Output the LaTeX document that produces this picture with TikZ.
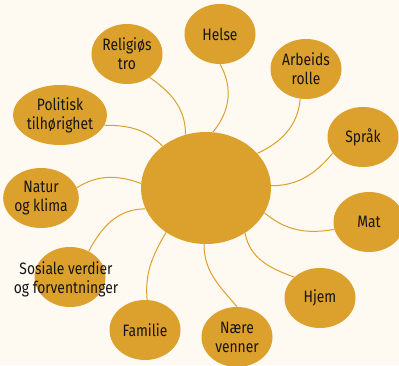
\documentclass[tikz,border=0pt]{standalone}
\usepackage{fontspec}
\setmainfont{Fira Sans}[FakeStretch=0.84]
\usetikzlibrary{shapes.geometric}
\definecolor{bgc}{HTML}{FEFAF2}
\definecolor{gold}{HTML}{DCA02C}
\definecolor{txt}{HTML}{151515}
\begin{document}
\begin{tikzpicture}[x=1pt,y=-1pt,
  sat/.style={ellipse,fill=gold,draw=none,minimum width=71pt,minimum height=60pt,inner sep=0pt,
    text=txt,align=center,font=\fontsize{16.5}{19}\selectfont},
  lbl/.style={text=txt,align=center,inner sep=0pt,font=\fontsize{16.5}{19}\selectfont},
  hub/.style={ellipse,fill=gold,draw=none,minimum width=130pt,minimum height=112pt,inner sep=0pt},
  link/.style={draw=gold,line width=1pt}]
\fill[bgc] (0,0) rectangle (399,365);
\useasboundingbox (0,0) rectangle (399,365);
\node[hub] (c) at (206,188) {};
\node[sat] (helse) at (220,34) {Helse};
\node[sat] (rel) at (127,54) {Religiøs\\tro};
\node[sat] (pol) at (60,115) {Politisk\\tilhørighet};
\node[sat] (arb) at (306,69) {Arbeids\\rolle};
\node[sat] (spr) at (363,137) {Språk};
\node[sat] (mat) at (369,222) {Mat};
\node[sat] (hjem) at (320,298) {Hjem};
\node[sat] (naere) at (237,337) {Nære\\venner};
\node[sat] (fam) at (145,330) {Familie};
\node[sat] (sos) at (70,277) {};
\node[sat] (nat) at (41,198) {Natur\\og klima};
\node[lbl] (sostext) at (66,279) {Sosiale verdier\\og forventninger};
\draw[link] (rel.-46) to[out=-35,in=90] (c.111);
\draw[link] (pol.-13) to[out=0,in=135] (c.136);
\draw[link] (helse.south) to[out=-60,in=50] (c.83);
\draw[link] (arb.-101) to[out=-95,in=25] (c.34);
\draw[link] (spr.-152) to[out=-130,in=0] (c.2);
\draw[link] (mat.-168) to[out=190,in=-40] (c.-23);
\draw[link] (hjem.141) to[out=160,in=-80] (c.-49);
\draw[link] (naere.north) to[out=130,in=-90] (c.-92);
\draw[link] (fam.86) to[out=95,in=-120] (c.-132);
\draw[link] (sos.54) to[out=62,in=180] (c.-161);
\draw[link] (nat.16) to[out=32,in=160] (c.176);
\end{tikzpicture}
\end{document}
